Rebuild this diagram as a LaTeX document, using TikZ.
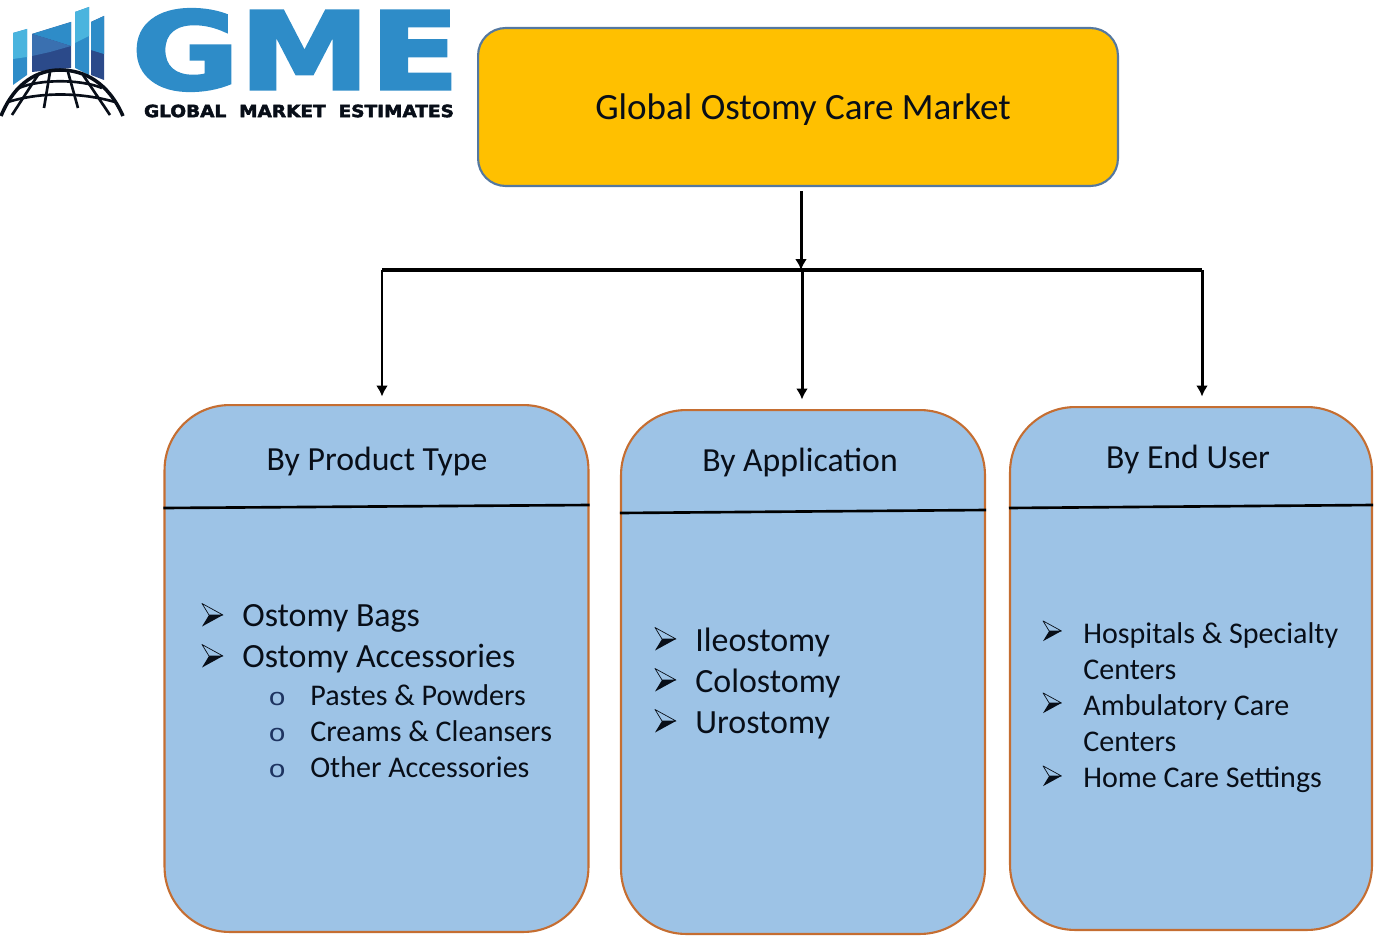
\documentclass[tikz,border=0pt]{standalone}
\usepackage{fontspec}
\setmainfont{Carlito}
\newfontfamily\circfont{Liberation Mono}
\newfontfamily\logofont[BoldFeatures={FakeBold=2.5}]{DejaVu Sans}
\usetikzlibrary{arrows.meta,positioning}
\definecolor{MarketGold}{RGB}{255,192,0}
\definecolor{MarketEdge}{RGB}{84,120,160}
\definecolor{PanelBlue}{RGB}{157,195,230}
\definecolor{PanelEdge}{RGB}{197,110,50}
\definecolor{LogoBlue}{RGB}{46,140,200}
\definecolor{LogoSky}{RGB}{74,180,222}
\definecolor{LogoMid}{RGB}{58,112,176}
\definecolor{LogoNavy}{RGB}{43,74,138}
\definecolor{InkDark}{RGB}{8,14,24}
\tikzset{
  panel/.style={draw=PanelEdge,fill=PanelBlue,line width=1.2pt,rounded corners=1.3cm,inner sep=0pt},
  flow/.style={-{Latex[length=2.2mm,width=2.4mm]},line width=1.7pt},
  rule/.style={line width=1.5pt},
  itemtext/.style={anchor=base west,inner sep=0pt,text=InkDark},
}
\newcommand{\bigitem}[4]{%
  \begin{scope}[shift={(#2-40,#3-11)},scale=#4]
    \draw[InkDark,line width=0.4pt,line join=round] (0,-11.5)--(21,0)--(7,0)--cycle;
    \fill[InkDark] (0,11.5)--(21,0)--(7,0)--cycle;
  \end{scope}}
\newcommand{\smallitem}[3]{%
  \node[itemtext,font=\circfont\fontsize{14}{14}\selectfont,text=LogoNavy!70!black,xscale=1.2] (o#1) at (268,#3) {o};
  \node[itemtext,font=\fontsize{17.1}{17.1}\selectfont] (t#1) at (310,#3) {#2};}
\begin{document}
\begin{tikzpicture}[x=0.02cm,y=-0.02cm]
  \useasboundingbox (0,0) rectangle (1375,936);
  % logo bars
  \fill[LogoBlue] (13,33)--(27,29)--(27,75)--(13,85)--cycle;
  \fill[LogoSky] (13,33)--(27,29)--(27,57)--(13,59)--cycle;
  \fill[LogoNavy] (32,34)--(71,22)--(71,68)--(32,72)--cycle;
  \fill[LogoBlue] (32,34)--(71,22)--(71,46)--(52,40)--cycle;
  \fill[LogoMid] (32,34)--(52,40)--(71,46)--(50,52)--(32,56)--cycle;
  \fill[LogoBlue] (75,12)--(89,7)--(89,75)--(75,68)--cycle;
  \fill[LogoSky] (75,12)--(89,7)--(89,36)--(75,43)--cycle;
  \fill[LogoNavy] (91,22)--(104,16)--(104,80)--(91,75)--cycle;
  \fill[LogoBlue] (91,22)--(104,16)--(104,54)--(91,50)--cycle;
  % logo globe
  \begin{scope}[InkDark,line width=1.5pt]
    \draw[line width=2pt] (1,116) .. controls (15,82) and (38,70) .. (60,70) .. controls (84,70) and (108,82) .. (123,116);
    \draw (19,88) .. controls (40,79) and (80,79) .. (102,88);
    \draw (8,102) .. controls (40,92) and (80,92) .. (115,102);
    \draw (38,75) -- (12,115);
    \draw (50,72) -- (44,108);
    \draw (68,72) -- (78,108);
    \draw (83,75) -- (110,115);
  \end{scope}
  \node[inner sep=0pt,text=LogoBlue] (logoGME) at (295.5,50) {\resizebox{6.55cm}{1.6cm}{\logofont\bfseries GME}};
  \node[inner sep=0pt,text=InkDark] (logoName) at (299,111) {\resizebox{6.2cm}{0.25cm}{\logofont\bfseries GLOBAL\ \ MARKET\ \ ESTIMATES}};
  % boxes
  \node[draw=MarketEdge,fill=MarketGold,line width=1.2pt,rounded corners=0.55cm,minimum width=12.8cm,minimum height=3.16cm,inner sep=0pt] (market) at (798,107) {};
  \node[panel,minimum width=8.48cm,minimum height=10.54cm] (product) at (376.5,668.5) {};
  \node[panel,minimum width=7.28cm,minimum height=10.48cm] (application) at (803,672) {};
  \node[panel,minimum width=7.24cm,minimum height=10.46cm] (enduser) at (1191,668.5) {};
  \node[anchor=base,inner sep=0pt,font=\fontsize{21.1}{21.1}\selectfont,text=InkDark] (marketText) at (803,119.5) {Global Ostomy Care Market};
  % connectors
  \coordinate (busL) at (382,270);
  \coordinate (busM) at (801,270);
  \coordinate (busR) at (1202,270);
  \draw[flow] (market.south -| busM) ++(0,4) -- (busM);
  \draw[rule,line width=2pt] (busL) -- (busR);
  \draw[flow] (busL) -- ([yshift=0.15cm]product.north -| busL);
  \draw[flow] (busM) ++(1,0) -- ([xshift=0.02cm,yshift=0.19cm]application.north -| busM);
  \draw[flow] (busR) -- ([yshift=0.19cm]enduser.north -| busR);
  % dividers
  \draw[rule] (product.west |- 0,508) -- (product.east |- 0,505);
  \draw[rule] (application.west |- 0,513) -- (application.east |- 0,510);
  \draw[rule] (enduser.west |- 0,508) -- (enduser.east |- 0,505);
  % headings
  \node[anchor=base,inner sep=0pt,font=\fontsize{19.2}{19.2}\selectfont,text=InkDark] (productHead) at (377,470) {By Product Type};
  \node[anchor=base,inner sep=0pt,font=\fontsize{19.2}{19.2}\selectfont,text=InkDark] (applicationHead) at (800,471) {By Application};
  \node[anchor=base,inner sep=0pt,font=\fontsize{19.2}{19.2}\selectfont,text=InkDark] (enduserHead) at (1188,468) {By End User};
  % first panel
  \bigitem{1}{242}{626}{1}
  \node[itemtext,font=\fontsize{19.3}{19.3}\selectfont] (t1) at (242,626.5) {Ostomy Bags};
  \bigitem{2}{242}{667}{1}
  \node[itemtext,font=\fontsize{19.3}{19.3}\selectfont] (t2) at (242,667.5) {Ostomy Accessories};
  \smallitem{3}{Pastes \& Powders}{705}
  \smallitem{4}{Creams \& Cleansers}{741}
  \smallitem{5}{Other Accessories}{777}
  % second panel
  \bigitem{6}{695}{650}{1}
  \node[itemtext,font=\fontsize{19.3}{19.3}\selectfont] (t6) at (695,651) {Ileostomy};
  \bigitem{7}{695}{691}{1}
  \node[itemtext,font=\fontsize{19.3}{19.3}\selectfont] (t7) at (695,692) {Colostomy};
  \bigitem{8}{695}{732}{1}
  \node[itemtext,font=\fontsize{19.3}{19.3}\selectfont] (t8) at (695,733) {Urostomy};
  % third panel
  \bigitem{9}{1083}{642}{0.88}
  \node[itemtext,font=\fontsize{17.1}{17.1}\selectfont] (t9) at (1083,643) {Hospitals \& Specialty};
  \node[itemtext,font=\fontsize{17.1}{17.1}\selectfont] (t10) at (1083,679) {Centers};
  \bigitem{11}{1083}{714}{0.88}
  \node[itemtext,font=\fontsize{17.1}{17.1}\selectfont] (t11) at (1083,715) {Ambulatory Care};
  \node[itemtext,font=\fontsize{17.1}{17.1}\selectfont] (t12) at (1083,751) {Centers};
  \bigitem{13}{1083}{787}{0.88}
  \node[itemtext,font=\fontsize{17.1}{17.1}\selectfont] (t13) at (1083,787.5) {Home Care Settings};
\end{tikzpicture}
\end{document}
